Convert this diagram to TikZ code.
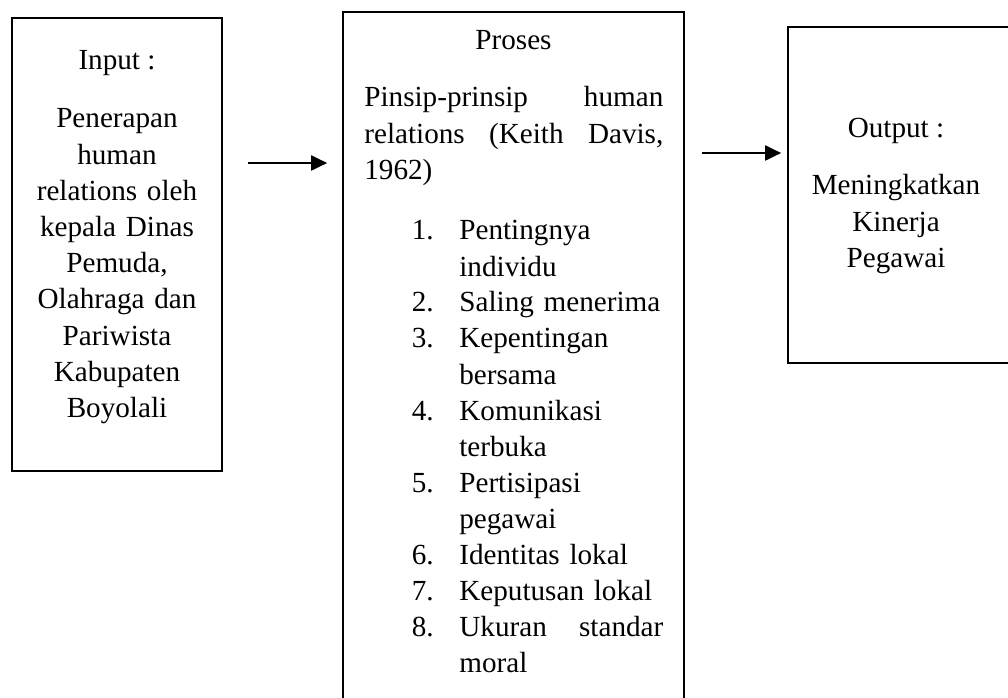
\documentclass[tikz,border=0pt]{standalone}
\usepackage{fontspec}
\setmainfont{Liberation Serif}
\usepackage{tikz}
\usetikzlibrary{arrows.meta}

\begin{document}
\begin{tikzpicture}[
  box/.style={draw,line width=1.5pt,inner sep=0pt},
  txt/.style={inner sep=0pt,font=\fontsize{16.6}{20.6}\selectfont},
  flow/.style={-{Triangle[length=.32cm,width=.3cm]},line width=1.1pt}]
  \useasboundingbox (0,0) rectangle (20.16,13.94);
  % the three boxes
  \node[box,minimum width=4.2cm,minimum height=9.06cm] (input) at (2.34,9.05) {};
  \node[box,minimum width=6.82cm,minimum height=14.2cm] (proses) at (10.27,6.6) {};
  \node[box,minimum width=5cm,minimum height=6.72cm] (output) at (18.26,10.04) {};
  % input
  \node[txt,anchor=base] (intitle) at (2.34,12.54) {Input :};
  \node[txt,anchor=base,text width=4cm,align=center] (intext) at (2.34,11.38)
    {Penerapan\\human\\relations oleh\\kepala Dinas\\Pemuda,\\Olahraga dan\\Pariwista\\Kabupaten\\Boyolali};
  % proses
  \node[txt,anchor=base] (prtitle) at (10.27,12.94) {Proses};
  \node[txt,anchor=base west,text width=5.98cm,align=left] (prinsip) at (7.28,11.80)
    {Pinsip-prinsip\hfill human\\relations\hfill (Keith\hfill Davis,\\1962)};
  \foreach \k/\n/\entry in {0/1/Pentingnya\\individu, 2/2/Saling menerima,
    3/3/Kepentingan\\bersama, 5/4/Komunikasi\\terbuka, 7/5/Pertisipasi\\pegawai,
    9/6/Identitas lokal, 10/7/Keputusan lokal, 11/8/Ukuran\hfill standar\\moral}{
    \node[txt,anchor=base west] (num\n) at (8.23,9.14-.72*\k) {\n.};
    \node[txt,anchor=base west,text width=4.08cm,align=left] (item\n) at (9.18,9.14-.72*\k) {\entry};
  }
  % output
  \node[txt,anchor=base] (outtitle) at (17.92,11.18) {Output :};
  \node[txt,anchor=base,text width=4cm,align=center] (outtext) at (17.92,10.04) {Meningkatkan\\Kinerja\\Pegawai};
  % arrows
  \coordinate (lvl1) at (0,10.68);
  \coordinate (lvl2) at (0,10.88);
  \draw[flow,shorten <=.5cm,shorten >=.29cm] (input.east |- lvl1) -- (proses.west |- lvl1);
  \draw[flow,shorten <=.33cm,shorten >=.11cm] (proses.east |- lvl2) -- (output.west |- lvl2);
\end{tikzpicture}
\end{document}
